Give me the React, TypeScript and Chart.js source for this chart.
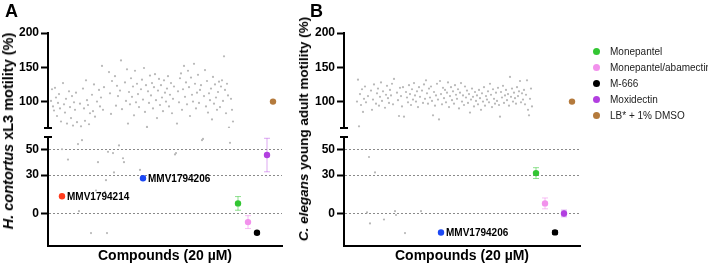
import React, { useEffect, useRef } from "react";
import { Chart, registerables } from "chart.js";

Chart.register(...registerables);

const FONT = '"Liberation Sans", Arial, Helvetica, sans-serif';

// ---------- DATA ----------
// Panel A: H. contortus xL3 motility (%) — one value per compound, in x order (compound index 1..n)
const hcMotility = [
  101, 118, 93, 87, 120, 106, 79, 98, 111, 90,
  71, 50, 127, 96, 84, 104, 68, 42, 115, 92,
  76, 108, 65, 99, 88, 113, 70, 54, 2, 97,
  64, 57, 119, 90, 72, 131, 102, 95, 67, 83,
  -15, 110, 86, 125, 78, 18, 100, 40, 117, 93,
  106, 152, 88, 121, 17, 26, -15, 48, 143, 112,
  82, 130, 47, 32, 137, 94, 123, 108, 53, 116,
  160, 89, 43, 40, 128, 101, 147, 68, 114, 96,
  134, 107, 122, 80, 145, 99, 126, 111, 92, 34,
  118, 132, 103, 149, 85, 124, 63, 115, 98, 138,
  109, 127, 90, 121, 140, 102, 76, 116, 133, 95,
  124, 106, 86, 131, 113, 100, 119, 137, 93, 110,
  127, 83, 104, 122, 46, 47, 68, 115, 99, 134,
  141, 88, 118, 152, 107, 128, 96, 145, 121, 79,
  135, 110, 100, 155, 126, 90, 113, 139, 98, 117,
  124, 57, 58, 108, 146, 93, 130, 84, 112, 102,
  119, 74, 136, 97, 125, 106, 88, 114, 129, 92,
  122, 131, 101, 166, 117, 83, 126, 109, 62, 55,
  104, 88, 71,
];

// Panel B: C. elegans young adult motility (%) — one value per compound, in x order
const ceMotility = [
  100, 132, 64, 111, 95, 118, 85, 104, 122, 99,
  1, 108, 44, -7.5, 116, 88, 103, 125, 32, 97,
  112, 119, 94, 107, 128, 101, 115, -4.5, 91, 110,
  123, 105, 98, 117, 109, 126, 96, 133, 2, -1,
  113, 102, 79, 120, 108, 93, 121, 78, -15, 114,
  106, 99, 124, 111, 95, 118, 103, 127, 109, 100,
  115, 92, 121, 107, 2, 116, 98, 125, 104, 131,
  112, 97, 119, 106, 122, 101, 80, 114, 94, 109,
  126, 103, 74, 130, 111, 96, 120, 105, 117, 99,
  113, 128, 92, 108, 121, 102, 115, 97, 124, 110,
  104, 118, 90, 113, 127, 100, 109, 95, 122, 106,
  116, 98, 111, 84, 103, 119, 107, 93, 114, 101,
  109, 96, 117, 105, 88, 112, 100, 121, 94, 108,
  103, 115, 99, 126, 110, 92, 118, 104, 97, 113,
  101, 120, 95, 78, 114, 106, 123, 98, 109, 117,
  102, 111, 94, 136, 107, 119, 100, 113, 105, 97,
  121, 108, 115, 130, 99, 112, 103, 117, 96, 110,
  131, 88, 80, 104, 119, 93,
];

// Highlighted hits
const hcHitNames = ["MMV1794214", "MMV1794206"];
const hcHitIndex = [12, 93];
const hcHitValue = [13.5, 27.5];
const hcHitColors = ["#ff3b1c", "#1c48f4"];

const ceHitNames = ["MMV1794206"];
const ceHitIndex = [85];
const ceHitValue = [-14.6];
const ceHitColors = ["#1c48f4"];

// Controls
const controlNames = ["Monepantel", "Monepantel/abamectin", "M-666", "Moxidectin", "LB* + 1% DMSO"];
const controlColors = ["#33c633", "#f291ec", "#000000", "#b23fe0", "#b47a3c"];
const controlErrColors = ["rgba(51,198,51,0.55)", "rgba(242,145,236,0.6)", "rgba(0,0,0,0.6)", "rgba(178,63,224,0.45)", "rgba(180,122,60,0.5)"];

const hcControlIndex = [188, 198, 207, 217, 223];
const hcControlMean = [8, -6.5, -14.8, 45.5, 100];
const hcControlSd = [5.3, 5, 1, 13, 0];

const ceControlIndex = [180, 189, 199, 208, 216];
const ceControlMean = [31.5, 8, -14.5, 0.2, 100];
const ceControlSd = [4.2, 4.2, 1.5, 2.6, 0];

// Broken y axis
const upperTicks = [100, 150, 200];
const lowerTicks = [0, 30, 50];
const upperRange = [61.5, 200];
const lowerRange = [-25.2, 59.5];

const xTitle = "Compounds (20 µM)";

// ---------- CHART ----------
type PanelKey = "A" | "B";
type SegKey = "upper" | "lower";

const PANELS: Record<PanelKey, any> = {
  A: {
    values: hcMotility, hitNames: hcHitNames, hitIndex: hcHitIndex, hitValue: hcHitValue, hitColors: hcHitColors,
    ctrlIndex: hcControlIndex, ctrlMean: hcControlMean, ctrlSd: hcControlSd,
    padLeft: 0, padRight: 426, xMin: -2, xMax: 232,
  },
  B: {
    values: ceMotility, hitNames: ceHitNames, hitIndex: ceHitIndex, hitValue: ceHitValue, hitColors: ceHitColors,
    ctrlIndex: ceControlIndex, ctrlMean: ceControlMean, ctrlSd: ceControlSd,
    padLeft: 296, padRight: 128, xMin: -12, xMax: 224,
  },
};

const SEGS: Record<SegKey, any> = {
  upper: { range: upperRange, ticks: upperTicks, padTop: 33, padBottom: 139 },
  lower: { range: lowerRange, ticks: lowerTicks, padTop: 137, padBottom: 0 },
};

const overlayPlugin = {
  id: "overlay",
  beforeDatasetsDraw(chart: any) {
    const { ctx } = chart;
    const xs = chart.scales.x, ys = chart.scales.y;
    chart.data.datasets.forEach((ds: any) => {
      if (!ds.sd) return;
      const p = ds.data[0];
      const x = xs.getPixelForValue(p.x);
      const yl = ys.getPixelForValue(p.y - ds.sd);
      const yh = ys.getPixelForValue(p.y + ds.sd);
      ctx.save();
      ctx.strokeStyle = ds.errorColor;
      ctx.lineWidth = 1;
      ctx.beginPath();
      ctx.moveTo(x, yl); ctx.lineTo(x, yh);
      ctx.moveTo(x - 3, yl); ctx.lineTo(x + 3, yl);
      ctx.moveTo(x - 3, yh); ctx.lineTo(x + 3, yh);
      ctx.stroke();
      ctx.restore();
    });
  },
  afterDatasetsDraw(chart: any) {
    const { ctx } = chart;
    chart.data.datasets.forEach((ds: any, i: number) => {
      if (!ds.pointLabel) return;
      const el = chart.getDatasetMeta(i).data[0];
      if (!el) return;
      ctx.save();
      ctx.font = `bold 10px ${FONT}`;
      ctx.fillStyle = "#000";
      ctx.textBaseline = "middle";
      ctx.textAlign = "left";
      ctx.fillText(ds.pointLabel, el.x + 5, el.y + 0.5);
      ctx.restore();
    });
  },
  afterDraw(chart: any, _args: any, opts: any) {
    const { ctx } = chart;
    const { left, top, bottom } = chart.chartArea;
    const y = opts.segment === "upper" ? bottom : top;
    ctx.save();
    ctx.strokeStyle = "#000";
    ctx.lineWidth = 2;
    ctx.beginPath();
    ctx.moveTo(left - 4, y);
    ctx.lineTo(left + 4, y);
    ctx.stroke();
    ctx.restore();
  },
};

function buildConfig(pk: PanelKey, sk: SegKey): any {
  const P = PANELS[pk];
  const S = SEGS[sk];
  const inSeg = (v: number) => v >= S.range[0] && v <= S.range[1];

  const datasets: any[] = [];
  datasets.push({
    data: P.values.map((v: number, i: number) => ({ x: i + 1, y: v })).filter((p: any) => inSeg(p.y)),
    pointRadius: 1.1,
    pointBackgroundColor: "#b8b8b8",
    pointBorderWidth: 0,
    showLine: false,
  });
  P.hitNames.forEach((name: string, i: number) => {
    if (!inSeg(P.hitValue[i])) return;
    datasets.push({
      data: [{ x: P.hitIndex[i], y: P.hitValue[i] }],
      pointRadius: 3.2,
      pointBackgroundColor: P.hitColors[i],
      pointBorderWidth: 0,
      pointLabel: name,
    });
  });
  controlNames.forEach((name: string, i: number) => {
    if (!inSeg(P.ctrlMean[i])) return;
    datasets.push({
      label: name,
      data: [{ x: P.ctrlIndex[i], y: P.ctrlMean[i] }],
      pointRadius: 3.2,
      pointBackgroundColor: controlColors[i],
      pointBorderWidth: 0,
      sd: P.ctrlSd[i],
      errorColor: controlErrColors[i],
    });
  });

  const isLower = sk === "lower";
  return {
    type: "scatter",
    data: { datasets },
    plugins: [overlayPlugin],
    options: {
      responsive: false,
      maintainAspectRatio: false,
      animation: false,
      events: [],
      layout: { padding: { left: P.padLeft, right: P.padRight, top: S.padTop, bottom: S.padBottom } },
      plugins: {
        legend: { display: false },
        tooltip: { enabled: false },
        overlay: { segment: sk },
      },
      scales: {
        x: {
          type: "linear",
          min: P.xMin,
          max: P.xMax,
          display: isLower,
          grid: { display: false, drawTicks: false },
          border: { display: true, color: "#000", width: 2 },
          ticks: { display: false },
          title: {
            display: true,
            text: xTitle,
            color: "#000",
            font: { family: FONT, size: 14, weight: "bold" },
            padding: { top: 1.5, bottom: 2.5 },
          },
        },
        y: {
          type: "linear",
          min: S.range[0],
          max: S.range[1],
          afterBuildTicks: (s: any) => {
            s.ticks = S.ticks.map((v: number) => ({ value: v }));
          },
          afterFit: (s: any) => {
            s.width = 48;
          },
          ticks: {
            color: "#000",
            padding: 2,
            font: { family: FONT, size: 12, weight: "bold" },
          },
          grid: {
            drawOnChartArea: isLower,
            color: "#8a8a8a",
            lineWidth: 1,
            drawTicks: true,
            tickLength: 7,
            tickColor: "#000",
            tickWidth: 2,
          },
          border: { display: true, color: "#000", width: 2, dash: [2, 2] },
        },
      },
    },
  };
}

function Segment({ panel, seg }: { panel: PanelKey; seg: SegKey }) {
  const ref = useRef<HTMLCanvasElement>(null);
  useEffect(() => {
    const chart = new Chart(ref.current as HTMLCanvasElement, buildConfig(panel, seg));
    return () => chart.destroy();
  }, [panel, seg]);
  return (
    <canvas
      ref={ref}
      width={708}
      height={267}
      style={{ position: "absolute", left: 0, top: 0, width: 708, height: 267, display: "block" }}
    />
  );
}

const titleBase: React.CSSProperties = {
  position: "absolute",
  transform: "translate(-50%, -50%) rotate(-90deg)",
  whiteSpace: "nowrap",
  fontFamily: FONT,
  fontWeight: "bold",
  lineHeight: "16px",
  color: "#000",
};

export default function App() {
  useEffect(() => {
    document.body.style.margin = "0";
  }, []);
  return (
    <div style={{ position: "relative", width: 708, height: 267, background: "#fff", overflow: "hidden" }}>
      <Segment panel="A" seg="upper" />
      <Segment panel="A" seg="lower" />
      <Segment panel="B" seg="upper" />
      <Segment panel="B" seg="lower" />

      <div style={{ position: "absolute", left: 5, top: 1.5, font: `bold 18px/18px ${FONT}`, color: "#000" }}>A</div>
      <div style={{ position: "absolute", left: 310, top: 1.5, font: `bold 18px/18px ${FONT}`, color: "#000" }}>B</div>

      <div style={{ ...titleBase, left: 7.5, top: 131, fontSize: 14.5 }}>
        <i>H. contortus</i> xL3 motility (%)
      </div>
      <div style={{ ...titleBase, left: 303.5, top: 129, fontSize: 13.5 }}>
        <i>C. elegans</i> young adult motility (%)
      </div>

      {controlNames.map((name, i) => (
        <div
          key={name}
          style={{
            position: "absolute",
            left: 592.5,
            top: 51.3 + i * 16 - 7,
            height: 14,
            display: "flex",
            alignItems: "center",
          }}
        >
          <span
            style={{
              display: "inline-block",
              width: 7,
              height: 7,
              borderRadius: "50%",
              background: controlColors[i],
            }}
          />
          <span style={{ marginLeft: 10.5, font: `10px ${FONT}`, color: "#222", whiteSpace: "nowrap" }}>{name}</span>
        </div>
      ))}
    </div>
  );
}
